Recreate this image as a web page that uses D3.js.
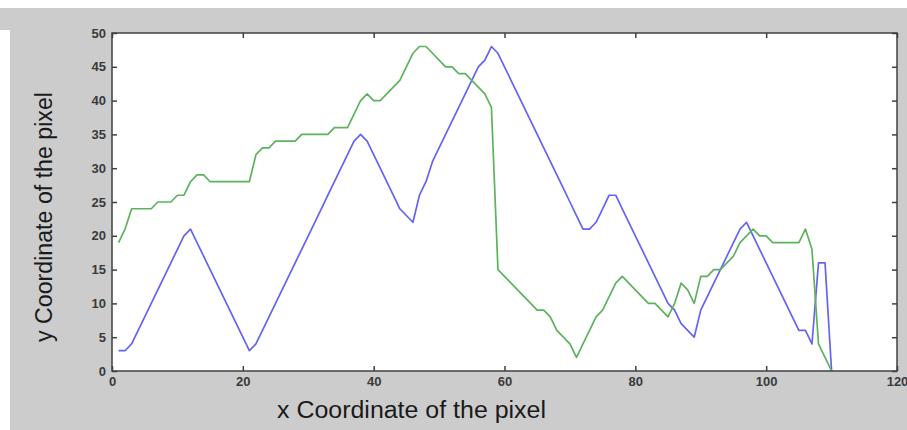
<!DOCTYPE html>
<meta charset="utf-8">
<style>
body { margin: 0; background: #fff; }
.tick text { font: bold 13px "Liberation Sans Narrow", "Liberation Sans", sans-serif; fill: #3a3a3a; }
.label { font: 23px "Liberation Sans Narrow", "Liberation Sans", sans-serif; fill: #1a1a1a; }
</style>
<svg width="907" height="430"></svg>
<script src="https://d3js.org/d3.v7.min.js"></script>
<script>

// x positions (pixel index) shared by both curves
var xs = d3.range(1, 111);

// blue curve, y value at each x
var blueY = [3, 3, 4, 6, 8, 10, 12, 14, 16, 18, 20, 21,
  19, 17, 15, 13, 11, 9, 7, 5, 3,
  4, 6, 8, 10, 12, 14, 16, 18, 20, 22, 24, 26, 28, 30, 32, 34, 35,
  34, 32, 30, 28, 26, 24, 23, 22,
  26, 28, 31, 33, 35, 37, 39, 41, 43, 45, 46, 48,
  47, 45, 43, 41, 39, 37, 35, 33, 31, 29, 27, 25, 23, 21, 21,
  22, 24, 26, 26,
  24, 22, 20, 18, 16, 14, 12, 10, 9, 7, 6, 5,
  9, 11, 13, 15, 17, 19, 21, 22,
  20, 18, 16, 14, 12, 10, 8, 6, 6, 4,
  16, 16, 0];

// green curve
var greenY = [19, 21, 24, 24, 24, 24, 25, 25, 25, 26, 26, 28, 29, 29,
  28, 28, 28, 28, 28, 28, 28, 32, 33, 33, 34, 34, 34, 34,
  35, 35, 35, 35, 35, 36, 36, 36, 38, 40, 41, 40, 40, 41, 42, 43, 45, 47, 48, 48,
  47, 46, 45, 45, 44, 44, 43, 42, 41, 39,
  15, 14, 13, 12, 11, 10, 9, 9, 8, 6, 5, 4, 2,
  4, 6, 8, 9, 11, 13, 14,
  13, 12, 11, 10, 10, 9, 8, 10, 13, 12, 10,
  14, 14, 15, 15, 16, 17, 19, 20, 21, 20, 20, 19, 19, 19, 19, 19, 21, 18,
  4, 2, 0];

var xTicks = [0, 20, 40, 60, 80, 100, 120];
var yTicks = [0, 5, 10, 15, 20, 25, 30, 35, 40, 45, 50];

var svg = d3.select("svg");

// figure background (gray window with white strips at top/left)
svg.append("rect").attr("x", 0).attr("y", 8).attr("width", 907).attr("height", 422).attr("fill", "#cccccc");
svg.append("rect").attr("x", 0).attr("y", 30).attr("width", 10).attr("height", 400).attr("fill", "#fff");

var box = {left: 112, right: 897, top: 33, bottom: 371};

var x = d3.scaleLinear().domain([0, 120]).range([box.left, box.right]);
var y = d3.scaleLinear().domain([0, 50]).range([box.bottom, box.top]);

svg.append("rect")
    .attr("x", box.left).attr("y", box.top)
    .attr("width", box.right - box.left).attr("height", box.bottom - box.top)
    .attr("fill", "#fff");

var line = d3.line()
    .x(function(d) { return x(d[0]); })
    .y(function(d) { return y(d[1]); });

svg.append("path")
    .datum(d3.zip(xs, blueY))
    .attr("fill", "none")
    .attr("stroke", "#6464f4")
    .attr("stroke-width", 1.7)
    .attr("stroke-linejoin", "round")
    .attr("d", line);

svg.append("path")
    .datum(d3.zip(xs, greenY))
    .attr("fill", "none")
    .attr("stroke", "#5db35d")
    .attr("stroke-width", 1.7)
    .attr("stroke-linejoin", "round")
    .attr("d", line);

// axes, ticks pointing inward on all four sides
function styleAxis(g) {
  g.select(".domain").remove();
  g.selectAll(".tick line").attr("stroke", "#404040").attr("stroke-width", 1.5);
}

svg.append("g")
    .attr("transform", "translate(0," + box.bottom + ")")
    .call(d3.axisBottom(x).tickValues(xTicks).tickSize(-5).tickPadding(6))
    .call(styleAxis);

svg.append("g")
    .attr("transform", "translate(0," + box.top + ")")
    .call(d3.axisTop(x).tickValues(xTicks).tickSize(-5).tickFormat(""))
    .call(styleAxis);

svg.append("g")
    .attr("transform", "translate(" + box.left + ",0)")
    .call(d3.axisLeft(y).tickValues(yTicks).tickSize(-5).tickPadding(6))
    .call(styleAxis);

svg.append("g")
    .attr("transform", "translate(" + box.right + ",0)")
    .call(d3.axisRight(y).tickValues(yTicks).tickSize(-5).tickFormat(""))
    .call(styleAxis);

svg.append("rect")
    .attr("x", box.left).attr("y", box.top)
    .attr("width", box.right - box.left).attr("height", box.bottom - box.top)
    .attr("fill", "none")
    .attr("stroke", "#404040")
    .attr("stroke-width", 1.5);

svg.append("text")
    .attr("class", "label")
    .attr("x", 277).attr("y", 418)
    .attr("textLength", 269)
    .attr("lengthAdjust", "spacingAndGlyphs")
    .text("x Coordinate of the pixel");

svg.append("text")
    .attr("class", "label")
    .attr("transform", "translate(52,342) rotate(-90)")
    .attr("textLength", 250)
    .attr("lengthAdjust", "spacingAndGlyphs")
    .text("y Coordinate of the pixel");

</script>
